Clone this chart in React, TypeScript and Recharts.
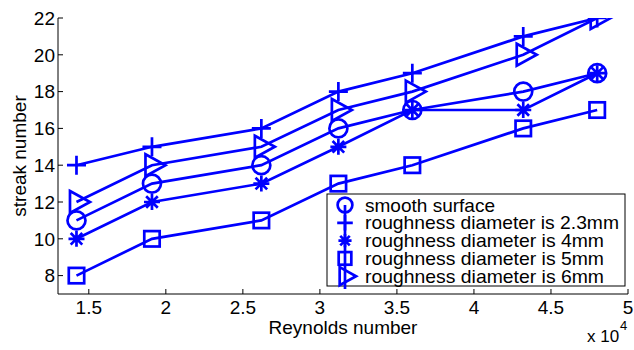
import React from 'react'
import { LineChart, Line, XAxis, YAxis, Customized } from 'recharts'

const BLUE = '#0000ff'
const FONT = 'Arial, "Liberation Sans", Helvetica, sans-serif'

// Reynolds number (x 10^4)
const reynolds = [1.42, 1.91, 2.62, 3.12, 3.6, 4.32, 4.8]

const smoothSurface = [11, 13, 14, 16, 17, 18, 19]
const rough23 = [14, 15, 16, 18, 19, 21, 22]
const rough4 = [10, 12, 13, 15, 17, 17, 19]
const rough5 = [8, 10, 11, 13, 14, 16, 17]
const rough6 = [12, 14, 15, 17, 18, 20, 22]

const xTicks = [1.5, 2, 2.5, 3, 3.5, 4, 4.5, 5]
const yTicks = [8, 10, 12, 14, 16, 18, 20, 22]

type MarkerKind = 'circle' | 'plus' | 'star' | 'square' | 'triangle'

const series: { key: string; name: string; marker: MarkerKind; values: number[]; textW: number }[] = [
  { key: 'smooth', name: 'smooth surface', marker: 'circle', values: smoothSurface, textW: 130 },
  { key: 'd23', name: 'roughness diameter is 2.3mm', marker: 'plus', values: rough23, textW: 254 },
  { key: 'd4', name: 'roughness diameter is 4mm', marker: 'star', values: rough4, textW: 239 },
  { key: 'd5', name: 'roughness diameter is 5mm', marker: 'square', values: rough5, textW: 239 },
  { key: 'd6', name: 'roughness diameter is 6mm', marker: 'triangle', values: rough6, textW: 239 },
]

const data = reynolds.map((x, i) => {
  const row: Record<string, number> = { x }
  series.forEach((s) => {
    row[s.key] = s.values[i]
  })
  return row
})

function Marker({ kind, cx, cy, s = 1 }: { kind: MarkerKind; cx: number; cy: number; s?: number }) {
  const common = { fill: 'none', stroke: BLUE, strokeWidth: 2.7 }
  if (kind === 'circle') return <circle cx={cx} cy={cy} r={9 * s} {...common} />
  if (kind === 'plus') {
    const h = 9.5 * s
    return <path d={`M${cx - h},${cy}H${cx + h}M${cx},${cy - h}V${cy + h}`} {...common} />
  }
  if (kind === 'star') {
    const h = 8 * s
    const d = 5.8 * s
    return (
      <path
        d={`M${cx - h},${cy}H${cx + h}M${cx},${cy - h}V${cy + h}M${cx - d},${cy - d}L${cx + d},${cy + d}M${cx - d},${cy + d}L${cx + d},${cy - d}`}
        {...common}
      />
    )
  }
  if (kind === 'square') {
    const h = 7.7 * s
    return <rect x={cx - h} y={cy - h} width={2 * h} height={2 * h} {...common} />
  }
  return (
    <path
      d={`M${cx - 6.5 * s},${cy - 11 * s}L${cx + 13.5 * s},${cy}L${cx - 6.5 * s},${cy + 11 * s}Z`}
      {...common}
    />
  )
}

function Annotations() {
  const lx = 345
  const rowY = (i: number) => 205 + i * 17.8
  return (
    <g fontFamily={FONT} fill="#000">
      <text x={26} y={156} fontSize={19} textAnchor="middle" transform="rotate(-90, 26, 156)">
        streak number
      </text>
      <text x={343} y={334} fontSize={19} textAnchor="middle">
        Reynolds number
      </text>
      <text x={587} y={342} fontSize={17}>
        x 10
      </text>
      <text x={620} y={330} fontSize={13}>
        4
      </text>
      <rect x={327} y={194} width={298} height={92} fill="#fff" stroke="#000" strokeWidth={1} />
      <line x1={lx} y1={rowY(0)} x2={lx} y2={289} stroke={BLUE} strokeWidth={2.7} />
      {series.map((s, i) => (
        <g key={s.key}>
          <Marker kind={s.marker} cx={lx} cy={rowY(i)} s={0.82} />
          <text x={365} y={rowY(i) + 6.5} fontSize={19} textLength={s.textW} lengthAdjust="spacingAndGlyphs">
            {s.name}
          </text>
        </g>
      ))}
    </g>
  )
}

export default function App() {
  const tickStyle = { fontSize: 19, fill: '#000', fontFamily: FONT }
  return (
    <div style={{ position: 'absolute', left: 0, top: 0, background: '#fff', fontFamily: FONT }}>
      <LineChart width={634} height={350} data={data} margin={{ top: 18, right: 6, bottom: 0, left: 0 }}>
        <XAxis
          type="number"
          dataKey="x"
          domain={[1.3, 5]}
          ticks={xTicks}
          allowDataOverflow
          height={56}
          tickSize={-5}
          tickMargin={12}
          tick={tickStyle}
          axisLine={{ stroke: '#000' }}
          tickLine={{ stroke: '#000' }}
          interval={0}
        />
        <YAxis
          type="number"
          domain={[7, 22]}
          ticks={yTicks}
          allowDataOverflow
          width={58}
          tickSize={-5}
          tickMargin={8}
          tick={tickStyle}
          axisLine={{ stroke: '#000' }}
          tickLine={{ stroke: '#000' }}
          interval={0}
        />
        {series.map((s) => (
          <Line
            key={s.key}
            type="linear"
            dataKey={s.key}
            name={s.name}
            stroke={BLUE}
            strokeWidth={2.7}
            isAnimationActive={false}
            dot={(p: any) => <Marker key={`${s.key}-${p.index}`} kind={s.marker} cx={p.cx} cy={p.cy} />}
            activeDot={false}
          />
        ))}
        <Customized component={Annotations} />
      </LineChart>
    </div>
  )
}
